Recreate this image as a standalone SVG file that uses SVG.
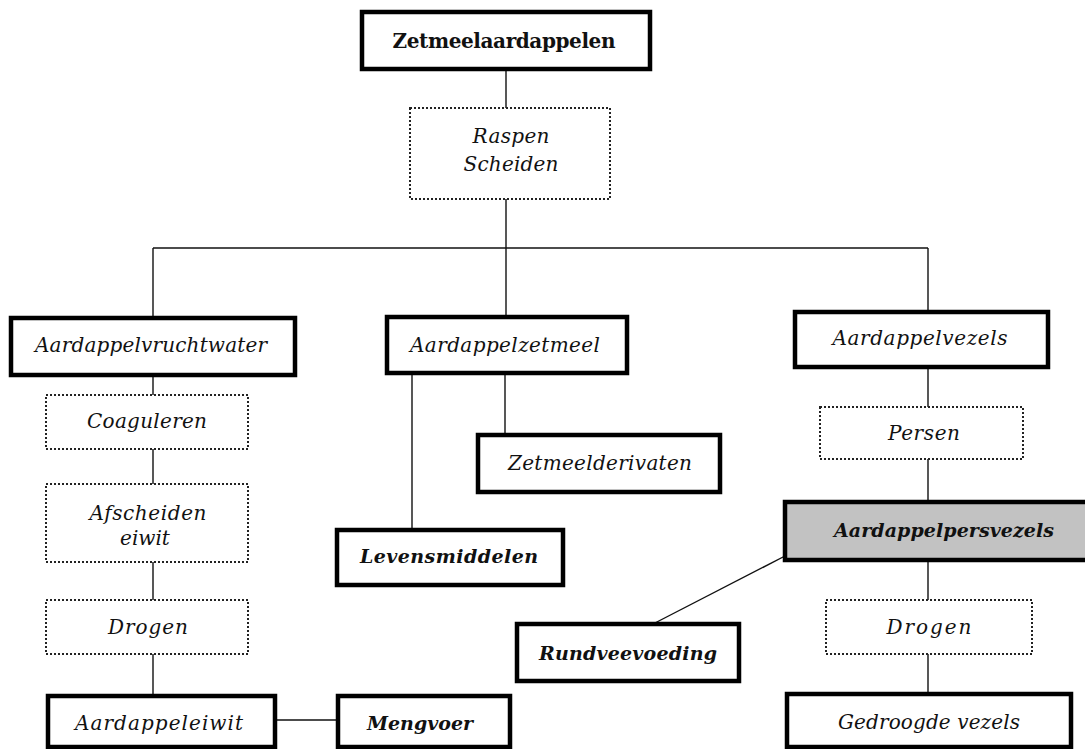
<svg xmlns="http://www.w3.org/2000/svg" width="1085" height="749" viewBox="0 0 1085 749">
  <style>
    .solid { fill: #ffffff; stroke: #000000; stroke-width: 4.5; }
    .step { fill: #ffffff; stroke: #222222; stroke-width: 2; stroke-dasharray: 2 2; }
    .grey { fill: #c2c2c2; stroke: #000000; stroke-width: 4.5; }
    .link { fill: none; stroke: #111111; stroke-width: 1.4; }
    text { font-family: "DejaVu Serif", "Liberation Serif", serif; font-size: 20px; fill: #111111; text-anchor: middle; }
    .it { font-style: italic; }
    .bi { font-style: italic; font-weight: bold; font-size: 19px; }
    .title { font-weight: bold; font-size: 20px; }
  </style>
  <rect width="1085" height="749" fill="#ffffff"/>

  <!-- connectors -->
  <g id="connectors" class="link">
    <line x1="506" y1="70" x2="506" y2="108"/>
    <line x1="506" y1="199" x2="506" y2="248"/>
    <line x1="153" y1="248" x2="928" y2="248"/>
    <line x1="153" y1="248" x2="153" y2="318"/>
    <line x1="506" y1="248" x2="506" y2="317"/>
    <line x1="928" y1="248" x2="928" y2="312"/>
    <!-- left column -->
    <line x1="153" y1="375" x2="153" y2="395"/>
    <line x1="153" y1="449" x2="153" y2="484"/>
    <line x1="153" y1="562" x2="153" y2="600"/>
    <line x1="153" y1="654" x2="153" y2="696"/>
    <line x1="275" y1="720" x2="338" y2="720"/>
    <!-- middle column -->
    <line x1="412" y1="373" x2="412" y2="530"/>
    <line x1="505" y1="373" x2="505" y2="435"/>
    <!-- right column -->
    <line x1="928" y1="367" x2="928" y2="407"/>
    <line x1="928" y1="459" x2="928" y2="502"/>
    <line x1="928" y1="560" x2="928" y2="600"/>
    <line x1="928" y1="654" x2="928" y2="694"/>
    <line x1="785" y1="556" x2="653" y2="624"/>
  </g>

  <g id="zetmeelaardappelen">
    <rect class="solid" x="362" y="12" width="288" height="57"/>
    <text class="title" x="504" y="48" textLength="223" lengthAdjust="spacing">Zetmeelaardappelen</text>
  </g>
  <g id="raspen-scheiden">
    <rect class="step" x="410" y="108" width="200" height="91"/>
    <text class="it" x="511" y="143" textLength="77" lengthAdjust="spacing">Raspen</text>
    <text class="it" x="511" y="171" textLength="95" lengthAdjust="spacing">Scheiden</text>
  </g>

  <g id="aardappelvruchtwater">
    <rect class="solid" x="11" y="318" width="284" height="57"/>
    <text class="it" x="151" y="352" textLength="232" lengthAdjust="spacing">Aardappelvruchtwater</text>
  </g>
  <g id="coaguleren">
    <rect class="step" x="46" y="395" width="202" height="54"/>
    <text class="it" x="147" y="428" textLength="120" lengthAdjust="spacing">Coaguleren</text>
  </g>
  <g id="afscheiden-eiwit">
    <rect class="step" x="46" y="484" width="202" height="78"/>
    <text class="it" x="148" y="520" textLength="117" lengthAdjust="spacing">Afscheiden</text>
    <text class="it" x="145" y="545">eiwit</text>
  </g>
  <g id="drogen-eiwit">
    <rect class="step" x="46" y="600" width="202" height="54"/>
    <text class="it" x="148" y="634" textLength="80" lengthAdjust="spacing">Drogen</text>
  </g>
  <g id="aardappeleiwit">
    <rect class="solid" x="48" y="696" width="227" height="51"/>
    <text class="it" x="159" y="730" textLength="168" lengthAdjust="spacing">Aardappeleiwit</text>
  </g>
  <g id="mengvoer">
    <rect class="solid" x="338" y="696" width="172" height="51"/>
    <text class="bi" x="420" y="730" textLength="106" lengthAdjust="spacing">Mengvoer</text>
  </g>

  <g id="aardappelzetmeel">
    <rect class="solid" x="387" y="317" width="240" height="56"/>
    <text class="it" x="505" y="352" textLength="190" lengthAdjust="spacing">Aardappelzetmeel</text>
  </g>
  <g id="zetmeelderivaten">
    <rect class="solid" x="478" y="435" width="242" height="57"/>
    <text class="it" x="600" y="470" textLength="184" lengthAdjust="spacing">Zetmeelderivaten</text>
  </g>
  <g id="levensmiddelen">
    <rect class="solid" x="337" y="530" width="226" height="55"/>
    <text class="bi" x="449" y="563" textLength="178" lengthAdjust="spacing">Levensmiddelen</text>
  </g>

  <g id="aardappelvezels">
    <rect class="solid" x="795" y="312" width="253" height="55"/>
    <text class="it" x="920" y="345" textLength="175" lengthAdjust="spacing">Aardappelvezels</text>
  </g>
  <g id="persen">
    <rect class="step" x="820" y="407" width="203" height="52"/>
    <text class="it" x="924" y="440" textLength="72" lengthAdjust="spacing">Persen</text>
  </g>
  <g id="aardappelpersvezels">
    <rect class="grey" x="785" y="502" width="310" height="58"/>
    <text class="bi" x="944" y="537" textLength="220" lengthAdjust="spacing">Aardappelpersvezels</text>
  </g>
  <g id="rundveevoeding">
    <rect class="solid" x="517" y="624" width="222" height="57"/>
    <text class="bi" x="628" y="660" textLength="178" lengthAdjust="spacing">Rundveevoeding</text>
  </g>
  <g id="drogen-vezels">
    <rect class="step" x="826" y="600" width="206" height="54"/>
    <text class="it" x="929" y="634" textLength="85" lengthAdjust="spacing">Drogen</text>
  </g>
  <g id="gedroogde-vezels">
    <rect class="solid" x="787" y="694" width="284" height="53"/>
    <text class="it" x="929" y="729" textLength="182" lengthAdjust="spacing">Gedroogde vezels</text>
  </g>
</svg>
